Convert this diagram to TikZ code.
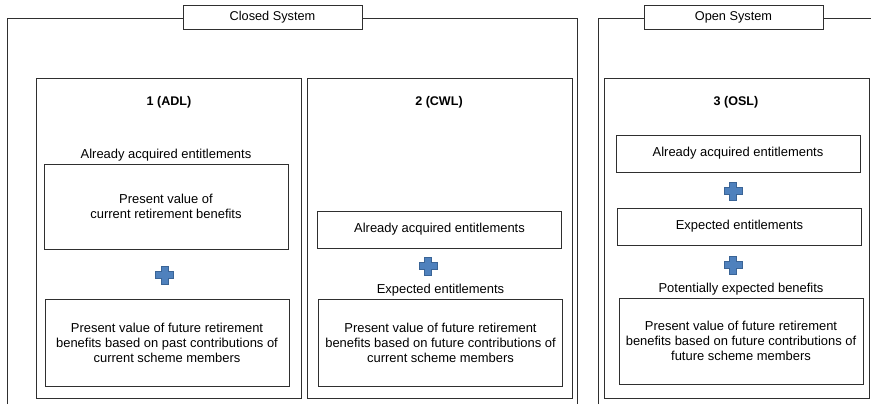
\documentclass[tikz,border=0pt]{standalone}
\usepackage{fontspec}
\setmainfont{Liberation Sans}
\usepackage{tikz}
\usetikzlibrary{positioning}
\definecolor{frameline}{HTML}{2F2F2F}
\definecolor{plusfill}{HTML}{4F81BD}
\definecolor{plusedge}{HTML}{3A6496}
\tikzset{
  sysframe/.style={draw=frameline, line width=0.9bp},
  systitle/.style={rectangle, draw=frameline, fill=white, line width=0.9bp,
              minimum width=179bp, minimum height=24bp, inner sep=0pt,
              font=\fontsize{12.8}{15}\selectfont},
  panel/.style={rectangle, draw=frameline, line width=0.9bp, anchor=north west,
              minimum width=265bp, minimum height=320bp, inner sep=0pt},
  paneltitle/.style={font=\fontsize{12.6}{15}\selectfont\bfseries},
  entbox/.style={rectangle, draw=frameline, line width=0.9bp, align=center,
              inner sep=0pt, font=\fontsize{13}{15}\selectfont},
  widebox/.style={entbox, minimum width=244bp, minimum height=86bp},
  flatbox/.style={entbox, minimum width=244bp, minimum height=37bp},
  lbl/.style={font=\fontsize{13}{15}\selectfont, inner sep=1bp},
  plussign/.pic={
    \draw[draw=plusedge, fill=plusfill, line width=0.6bp]
      (-3.5,-9) -- (3.5,-9) -- (3.5,-3.5) -- (9,-3.5) -- (9,3.5) -- (3.5,3.5)
      -- (3.5,9) -- (-3.5,9) -- (-3.5,3.5) -- (-9,3.5) -- (-9,-3.5) -- (-3.5,-3.5) -- cycle;
  }
}

\begin{document}
\begin{tikzpicture}[x=1bp, y=-1bp]
\useasboundingbox (0,0) rectangle (871,404);

% system frames, open at the bottom
\draw[sysframe] (7,404) |- (577,18) -- (577,404);
\draw[sysframe] (598,404) |- (871,18);
\node[systitle] (closed) at (272.5,17) {Closed System};
\node[systitle] (open) at (733.5,17) {Open System};

% panels
\node[panel] (p1) at (36,78) {};
\node[panel] (p2) at (307,78) {};
\node[panel] (p3) at (604,78) {};
\node[paneltitle] (t1) at (169,102) {1 (ADL)};
\node[paneltitle] (t2) at (439,102) {2 (CWL)};
\node[paneltitle] (t3) at (736,102) {3 (OSL)};

% 1 (ADL)
\node[widebox, minimum height=85bp] (a1) at (166,206.5) {Present value of\\current retirement benefits};
\node[lbl, above=1bp of a1] (la1) {Already acquired entitlements};
\pic at (164.5,275) {plussign};
\node[widebox, minimum height=87bp] (b1) at (167,342.5) {Present value of future retirement\\benefits based on past contributions of\\current scheme members};

% 2 (CWL)
\node[flatbox] (a2) at (439.5,229.5) {Already acquired entitlements};
\pic at (428,266) {plussign};
\node[widebox, minimum height=87bp] (b2) at (440.5,342.5) {Present value of future retirement\\benefits based on future contributions of\\current scheme members};
\node[lbl, above=1bp of b2] (lb2) {Expected entitlements};

% 3 (OSL)
\node[flatbox] (a3) at (738,153.5) {Already acquired entitlements};
\pic at (733,191) {plussign};
\node[flatbox] (e3) at (739.5,226.5) {Expected entitlements};
\pic at (733,265) {plussign};
\node[widebox] (b3) at (741,341) {Present value of future retirement\\benefits based on future contributions of\\future scheme members};
\node[lbl, above=1bp of b3] (lb3) {Potentially expected benefits};
\end{tikzpicture}
\end{document}
